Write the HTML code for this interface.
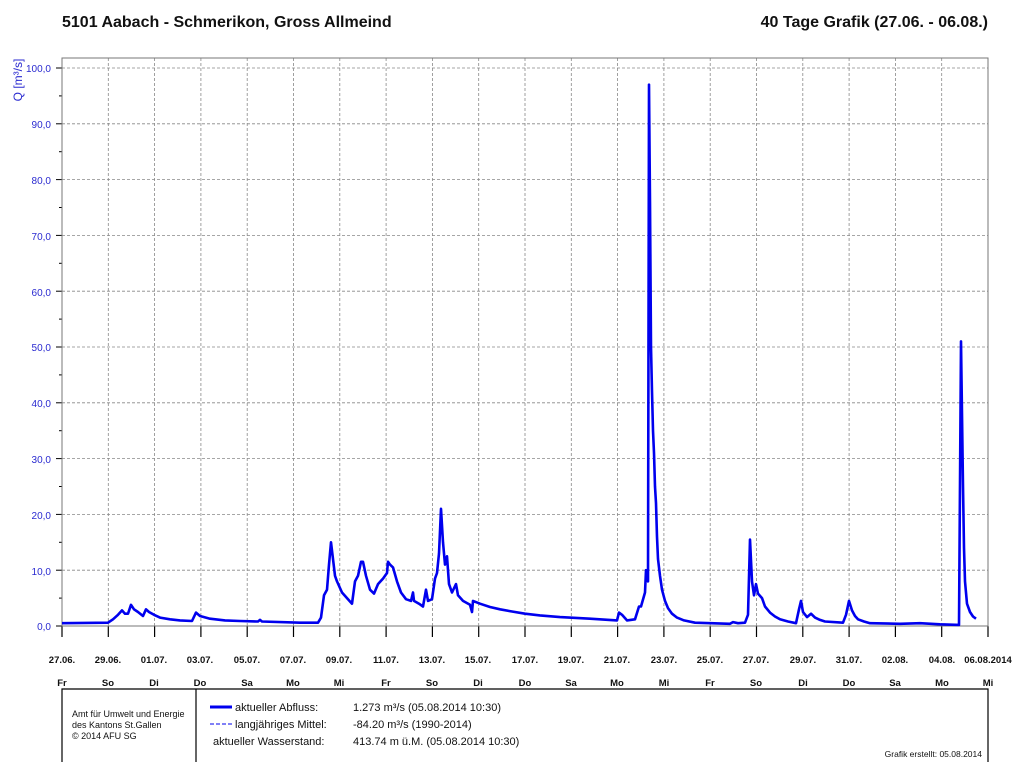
<!DOCTYPE html>
<html><head><meta charset="utf-8"><style>
body{margin:0;background:#fff;}
svg{display:block;font-family:"Liberation Sans",Arial,sans-serif;}
</style></head><body>
<svg id="s" width="1012" height="763" viewBox="0 0 1012 763">
<rect width="1012" height="763" fill="#fff"/>
<text x="62" y="27" font-size="16" font-weight="bold" fill="#111">5101 Aabach - Schmerikon, Gross Allmeind</text>
<text x="988" y="27" font-size="16" font-weight="bold" fill="#111" text-anchor="end">40 Tage Grafik (27.06. - 06.08.)</text>
<text transform="translate(22,80) rotate(-90)" font-size="12" fill="#2a2ad0" text-anchor="middle">Q [m³/s]</text>
<g id="grid"></g>
<rect x="62" y="58" width="926" height="568" fill="none" stroke="#777" stroke-width="1"/>
<g font-size="10" fill="#2a2ad0" text-anchor="end">
<text x="51" y="72">100,0</text><text x="51" y="128">90,0</text><text x="51" y="184">80,0</text><text x="51" y="240">70,0</text><text x="51" y="296">60,0</text><text x="51" y="351">50,0</text><text x="51" y="407">40,0</text><text x="51" y="463">30,0</text><text x="51" y="519">20,0</text><text x="51" y="575">10,0</text><text x="51" y="630">0,0</text>
</g>
<g font-size="9.5" font-weight="bold" fill="#111" text-anchor="middle">
<text x="62" y="663">27.06.</text><text x="108" y="663">29.06.</text><text x="154" y="663">01.07.</text><text x="200" y="663">03.07.</text><text x="247" y="663">05.07.</text><text x="293" y="663">07.07.</text><text x="339" y="663">09.07.</text><text x="386" y="663">11.07.</text><text x="432" y="663">13.07.</text><text x="478" y="663">15.07.</text><text x="525" y="663">17.07.</text><text x="571" y="663">19.07.</text><text x="617" y="663">21.07.</text><text x="664" y="663">23.07.</text><text x="710" y="663">25.07.</text><text x="756" y="663">27.07.</text><text x="803" y="663">29.07.</text><text x="849" y="663">31.07.</text><text x="895" y="663">02.08.</text><text x="942" y="663">04.08.</text><text x="988" y="663">06.08.2014</text>
<text x="62" y="686">Fr</text><text x="108" y="686">So</text><text x="154" y="686">Di</text><text x="200" y="686">Do</text><text x="247" y="686">Sa</text><text x="293" y="686">Mo</text><text x="339" y="686">Mi</text><text x="386" y="686">Fr</text><text x="432" y="686">So</text><text x="478" y="686">Di</text><text x="525" y="686">Do</text><text x="571" y="686">Sa</text><text x="617" y="686">Mo</text><text x="664" y="686">Mi</text><text x="710" y="686">Fr</text><text x="756" y="686">So</text><text x="803" y="686">Di</text><text x="849" y="686">Do</text><text x="895" y="686">Sa</text><text x="942" y="686">Mo</text><text x="988" y="686">Mi</text>
</g>
<path d="M62 762V689H988V762M196 689V762" fill="none" stroke="#000" stroke-width="1.2"/>
<g font-size="9" fill="#111"><text x="72" y="717">Amt für Umwelt und Energie</text><text x="72" y="728">des Kantons St.Gallen</text><text x="72" y="739">© 2014 AFU SG</text></g>
<line x1="210" y1="707" x2="232" y2="707" stroke="#0000ee" stroke-width="3"/>
<line x1="210" y1="724" x2="232" y2="724" stroke="#0000ee" stroke-width="1" stroke-dasharray="4,2"/>
<g font-size="11" fill="#111"><text x="235" y="711">aktueller Abfluss:</text><text x="235" y="728">langjähriges Mittel:</text><text x="213" y="745">aktueller Wasserstand:</text>
<text x="353" y="711">1.273 m³/s (05.08.2014 10:30)</text><text x="353" y="728">-84.20 m³/s (1990-2014)</text><text x="353" y="745">413.74 m ü.M. (05.08.2014 10:30)</text></g>
<text x="982" y="757" font-size="8.5" fill="#111" text-anchor="end">Grafik erstellt: 05.08.2014</text>
<path id="q" fill="none" stroke="#0000ee" stroke-width="2.6" stroke-linejoin="round"/>
</svg>
<script>
var g=document.getElementById('grid'),h='';
for(var i=0;i<=20;i++){var x=62+i*926/20;
 if(i>0&&i<20)h+='<line x1="'+x+'" y1="58" x2="'+x+'" y2="626" stroke="#888" stroke-dasharray="3,2" stroke-width="0.8"/>';
 h+='<line x1="'+x+'" y1="626" x2="'+x+'" y2="637" stroke="#000" stroke-width="1.2"/>';}
for(var v=0;v<=100;v+=5){var y=626-5.58*v;
 if(v%10==0){if(v>0)h+='<line x1="62" y1="'+y+'" x2="988" y2="'+y+'" stroke="#888" stroke-dasharray="3,2" stroke-width="0.8"/>';h+='<line x1="56" y1="'+y+'" x2="62" y2="'+y+'" stroke="#000"/>';}
 else h+='<line x1="59" y1="'+y+'" x2="62" y2="'+y+'" stroke="#000"/>';}
g.innerHTML=h;
var d=[62,.5,108,.6,113,1.2,118,2,122,2.8,125,2.2,128,2.2,131,3.8,134,3,138,2.5,143,1.8,146,3,149,2.5,154,2,160,1.5,170,1.2,180,1,192,.9,196,2.4,200,1.8,210,1.3,225,1,240,.9,258,.8,260,1.1,262,.8,300,.6,318,.6,321,1.5,324,5.5,327,6.5,329,11,331,15,333,12,335,9,337,8,342,6,347,5,352,4,355,8,358,9,361,11.5,363,11.5,366,9,370,6.5,374,5.8,378,7.5,383,8.5,387,9.5,388,11.5,390,11,393,10.5,397,8,401,6,406,4.8,411,4.5,413,6,414,4.5,419,4,423,3.5,426,6.5,428,4.5,432,4.8,435,8.5,437,9.5,439,13,441,21,443,15,445,11,447,12.5,449,7.5,452,6,456,7.5,458,5.5,463,4.5,470,3.8,472,2.5,473,4.5,480,4,490,3.4,500,3,512,2.6,525,2.2,540,1.9,560,1.6,590,1.3,617,1,619,2.4,622,2,627,1,635,1.2,639,3.5,641,3.5,645,6,646,10,648,8,649,97,650,76,651,50,652,42,653,35,654,31,655,25,656,22,657,16,658,12,660,9,662,6.5,665,4.5,668,3.2,672,2.2,677,1.5,684,1,695,.6,730,.4,733,.7,738,.5,745,.6,748,2,750,15.5,752,8,754,5.5,756,7.5,758,5.8,762,5,765,3.5,770,2.4,775,1.7,780,1.2,788,.8,796,.5,799,3,801,4.5,803,2.5,807,1.6,811,2.2,815,1.5,820,1.1,825,.8,843,.6,846,2,849,4.5,852,2.8,855,1.8,858,1.2,864,.8,870,.5,900,.4,920,.5,940,.3,959,.2,961,51,962,38,963,25,964,14,965,8,967,4,970,2.5,973,1.7,976,1.3];
var p='';for(var k=0;k<d.length;k+=2)p+=(k?'L':'M')+d[k]+' '+(626-5.58*d[k+1]).toFixed(1);
document.getElementById('q').setAttribute('d',p);
</script>
</body></html>
